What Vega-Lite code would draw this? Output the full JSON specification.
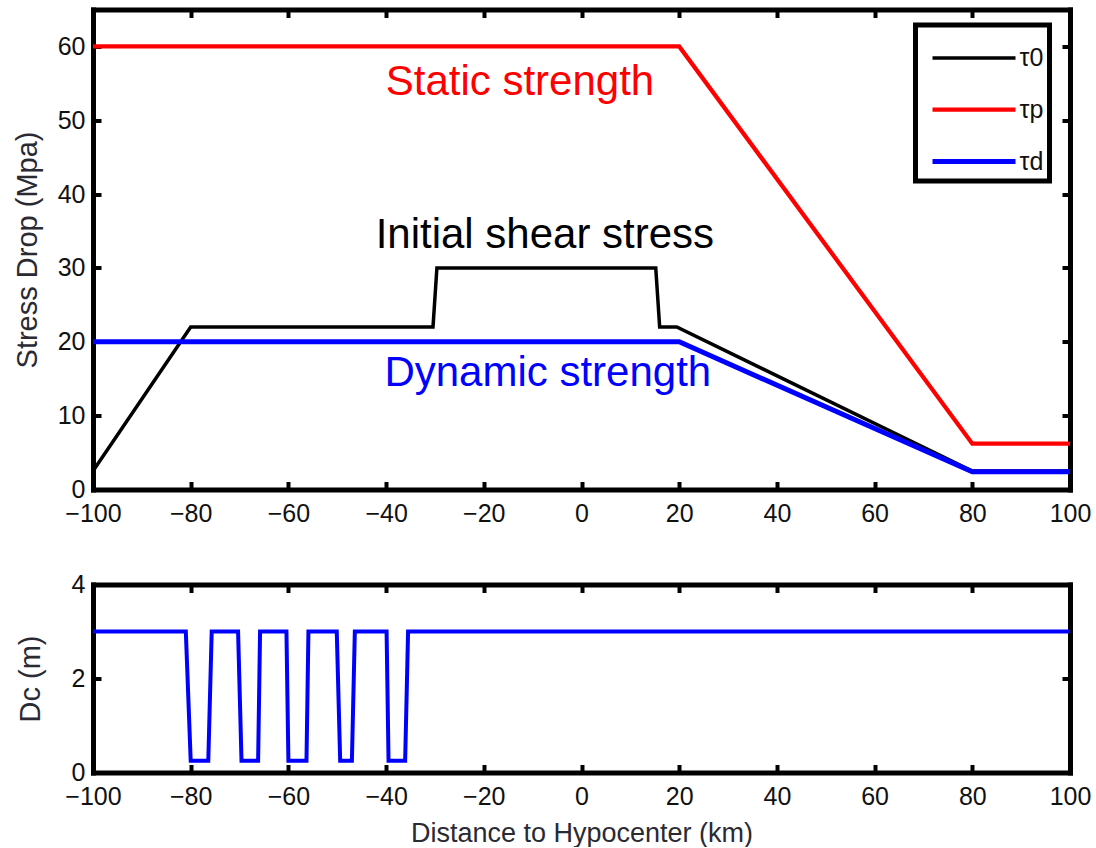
{
  "$schema": "https://vega.github.io/schema/vega-lite/v6.json",
  "background": "white",
  "padding": {"left": 13, "top": 7.5, "right": 2, "bottom": 0},
  "datasets": {
    "stress": [
      {"series": "τ0", "i": 0, "x": -100, "y": 2.5},
      {"series": "τ0", "i": 1, "x": -80, "y": 22},
      {"series": "τ0", "i": 2, "x": -30.4, "y": 22},
      {"series": "τ0", "i": 3, "x": -29.6, "y": 30},
      {"series": "τ0", "i": 4, "x": 15.2, "y": 30},
      {"series": "τ0", "i": 5, "x": 16, "y": 22},
      {"series": "τ0", "i": 6, "x": 19.5, "y": 22},
      {"series": "τ0", "i": 7, "x": 80, "y": 2.5},
      {"series": "τ0", "i": 8, "x": 100, "y": 2.5},
      {"series": "τp", "i": 0, "x": -100, "y": 60},
      {"series": "τp", "i": 1, "x": 20, "y": 60},
      {"series": "τp", "i": 2, "x": 80, "y": 6.2},
      {"series": "τp", "i": 3, "x": 100, "y": 6.2},
      {"series": "τd", "i": 0, "x": -100, "y": 20},
      {"series": "τd", "i": 1, "x": 20, "y": 20},
      {"series": "τd", "i": 2, "x": 80, "y": 2.4},
      {"series": "τd", "i": 3, "x": 100, "y": 2.4}
    ],
    "notes": [
      {"label": "Static strength", "series": "τp", "x": -12.6, "y": 53.4},
      {"label": "Initial shear stress", "series": "τ0", "x": -7.5, "y": 32.7},
      {"label": "Dynamic strength", "series": "τd", "x": -6.9, "y": 14.0}
    ],
    "dc": [
      {"i": 0, "x": -100, "dc": 3},
      {"i": 1, "x": -81, "dc": 3},
      {"i": 2, "x": -80, "dc": 0.25},
      {"i": 3, "x": -76.4, "dc": 0.25},
      {"i": 4, "x": -75.7, "dc": 3},
      {"i": 5, "x": -70.3, "dc": 3},
      {"i": 6, "x": -69.6, "dc": 0.25},
      {"i": 7, "x": -66.2, "dc": 0.25},
      {"i": 8, "x": -65.8, "dc": 3},
      {"i": 9, "x": -60.4, "dc": 3},
      {"i": 10, "x": -60, "dc": 0.25},
      {"i": 11, "x": -56.3, "dc": 0.25},
      {"i": 12, "x": -55.9, "dc": 3},
      {"i": 13, "x": -50.1, "dc": 3},
      {"i": 14, "x": -49.4, "dc": 0.25},
      {"i": 15, "x": -47, "dc": 0.25},
      {"i": 16, "x": -46.4, "dc": 3},
      {"i": 17, "x": -39.9, "dc": 3},
      {"i": 18, "x": -39.5, "dc": 0.25},
      {"i": 19, "x": -36.1, "dc": 0.25},
      {"i": 20, "x": -35.5, "dc": 3},
      {"i": 21, "x": 100, "dc": 3}
    ]
  },
  "config": {
    "view": {"stroke": null},
    "font": "Liberation Sans",
    "axis": {
      "grid": false,
      "domainColor": "black",
      "domainWidth": 5,
      "domainCap": "square",
      "tickColor": "black",
      "tickWidth": 4,
      "tickSize": -8,
      "labelFontSize": 25,
      "labelColor": "#111111",
      "labelFont": "Liberation Sans",
      "labelFlush": false,
      "labelOverlap": false,
      "titleFont": "Liberation Sans",
      "titleFontSize": 29,
      "titleFontWeight": "normal",
      "titleColor": "#2a2a33"
    },
    "legend": {"strokeWidth": 5}
  },
  "spacing": 95,
  "bounds": "flush",
  "vconcat": [
    {
      "width": 977,
      "height": 480,
      "resolve": {"axis": {"x": "independent", "y": "independent"}},
      "layer": [
        {
          "data": {"name": "stress"},
          "mark": {"type": "line"},
          "encoding": {
            "x": {"field": "x", "type": "quantitative", "scale": {"domain": [-100, 100], "nice": false},
              "axis": {"orient": "bottom", "values": [-100, -80, -60, -40, -20, 0, 20, 40, 60, 80, 100], "title": null, "labelPadding": 20}},
            "y": {"field": "y", "type": "quantitative", "scale": {"domain": [0, 65], "nice": false},
              "axis": {"orient": "left", "values": [0, 10, 20, 30, 40, 50, 60], "title": "Stress Drop (Mpa)", "titleX": -80, "titleBaseline": "top", "labelPadding": 16}},
            "color": {"field": "series", "type": "nominal",
              "scale": {"domain": ["τ0", "τp", "τd"], "range": ["#000000", "#ff0000", "#0000ff"]},
              "legend": {"orient": "none", "legendX": 822.5, "legendY": 15.5, "title": null,
                "symbolType": "M-1.66,0H1.66", "symbolSize": 2500, "symbolStrokeWidth": 5, "symbolFillColor": "transparent",
                "symbolOffset": 25, "labelOffset": 18, "labelFontSize": 25, "labelColor": "#111111",
                "padding": 6, "rowPadding": 11, "strokeColor": "black", "fillColor": "white"}},
            "strokeWidth": {"field": "series", "type": "nominal",
              "scale": {"domain": ["τ0", "τp", "τd"], "range": [3.5, 5, 5]}, "legend": null},
            "order": {"field": "i", "type": "quantitative"}
          }
        },
        {
          "data": {"name": "notes"},
          "mark": {"type": "text", "fontSize": 42, "align": "center", "baseline": "alphabetic", "font": "Liberation Sans"},
          "encoding": {
            "x": {"field": "x", "type": "quantitative",
              "axis": {"orient": "top", "labels": false, "title": null, "values": [-100, -80, -60, -40, -20, 0, 20, 40, 60, 80, 100]}},
            "y": {"field": "y", "type": "quantitative",
              "axis": {"orient": "right", "labels": false, "title": null, "values": [0, 10, 20, 30, 40, 50, 60]}},
            "text": {"field": "label"},
            "color": {"field": "series", "type": "nominal", "legend": null}
          }
        }
      ]
    },
    {
      "width": 977,
      "height": 188,
      "resolve": {"axis": {"x": "independent", "y": "independent"}},
      "layer": [
        {
          "data": {"name": "dc"},
          "mark": {"type": "line", "color": "#0000ff", "strokeWidth": 4},
          "encoding": {
            "x": {"field": "x", "type": "quantitative", "scale": {"domain": [-100, 100], "nice": false},
              "axis": {"orient": "bottom", "values": [-100, -80, -60, -40, -20, 0, 20, 40, 60, 80, 100], "title": "Distance to Hypocenter (km)", "titleFontSize": 27, "titleY": 69, "titleBaseline": "alphabetic", "labelPadding": 20}},
            "y": {"field": "dc", "type": "quantitative", "scale": {"domain": [0, 4], "nice": false},
              "axis": {"orient": "left", "values": [0, 2, 4], "title": "Dc (m)", "titleX": -77, "titleBaseline": "top", "labelPadding": 16}},
            "order": {"field": "i", "type": "quantitative"}
          }
        },
        {
          "data": {"name": "dc"},
          "mark": {"type": "point", "opacity": 0},
          "encoding": {
            "x": {"field": "x", "type": "quantitative",
              "axis": {"orient": "top", "labels": false, "title": null, "values": [-100, -80, -60, -40, -20, 0, 20, 40, 60, 80, 100]}},
            "y": {"field": "dc", "type": "quantitative",
              "axis": {"orient": "right", "labels": false, "title": null, "values": [0, 2, 4]}}
          }
        }
      ]
    }
  ]
}
